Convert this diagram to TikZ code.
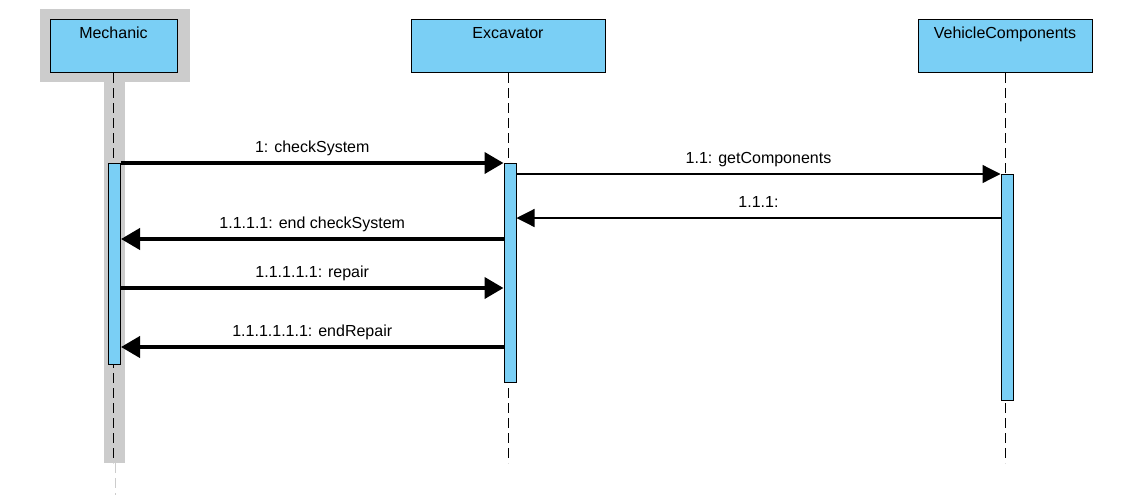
\documentclass[tikz,border=0pt]{standalone}
\usepackage{fontspec}
\setmainfont{Liberation Sans}
\usetikzlibrary{arrows.meta}
\definecolor{umlblue}{HTML}{7ACFF5}
\definecolor{focusgray}{HTML}{CCCCCC}
\begin{document}
\begin{tikzpicture}[x=1pt, y=-1pt, font=\fontsize{16}{19}\selectfont,
	lifebox/.style={rectangle, draw, line width=1pt, fill=umlblue, anchor=north, minimum height=53pt, inner ysep=0pt, text height=19pt, text depth=34pt},
	actbar/.style={rectangle, draw, line width=1pt, fill=umlblue, anchor=north, minimum width=12pt, inner sep=0pt},
	lifeline/.style={line width=1pt, dash pattern=on 10pt off 5pt},
	call/.style={line width=4pt, -{Triangle[length=19pt,width=21pt]}},
	sig/.style={line width=1.2pt, -{Triangle[length=18pt,width=18pt]}},
	msglabel/.style={midway, anchor=base, yshift=11pt}]
	\useasboundingbox (0,0) rectangle (1126,496);
	
	% focus of the mechanic
	\fill[focusgray] (40,9) rectangle (190,82);
	\fill[focusgray] (104,82) rectangle (125,463);
	
	% lifelines
	\node[lifebox, minimum width=127pt] (mech) at (113.5,19) {Mechanic};
	\node[lifebox, minimum width=194pt] (exc) at (508,19) {Excavator};
	\node[lifebox, minimum width=174pt] (vc) at (1005,19) {VehicleComponents};
	\coordinate (mechend) at (113.5,463);
	\coordinate (excend) at (508,463);
	\coordinate (vcend) at (1005,463);
	\coordinate (mechtail) at (115,495);
	\draw[lifeline] (mech.south) -- (mechend);
	\draw[lifeline] (exc.south) -- (excend);
	\draw[lifeline] (vc.south) -- (vcend);
	\draw[lifeline, draw=focusgray] (mechend -| mechtail) -- (mechtail);
	
	% activations
	\node[actbar, minimum height=201pt] (mechact) at (114.5,163) {};
	\node[actbar, minimum height=219pt] (excact) at (510,163) {};
	\node[actbar, minimum height=226pt] (vcact) at (1007,174) {};
	
	% messages
	\draw[call] (mechact.north east) -- (excact.north west) node[msglabel] {1: checkSystem};
	\draw[sig] ([yshift=-11pt]excact.north east) -- (vcact.north west) node[msglabel] {1.1: getComponents};
	\draw[sig] ([yshift=-44pt]vcact.north west) -- ([yshift=-55pt]excact.north east) node[msglabel] {1.1.1:};
	\draw[call] ([yshift=-76pt]excact.north west) -- ([yshift=-76pt]mechact.north east) node[msglabel] {1.1.1.1: end checkSystem};
	\draw[call] ([yshift=-125pt]mechact.north east) -- ([yshift=-125pt]excact.north west) node[msglabel] {1.1.1.1.1: repair};
	\draw[call] ([yshift=-184pt]excact.north west) -- ([yshift=-184pt]mechact.north east) node[msglabel] {1.1.1.1.1.1: endRepair};
	
\end{tikzpicture}
\end{document}
